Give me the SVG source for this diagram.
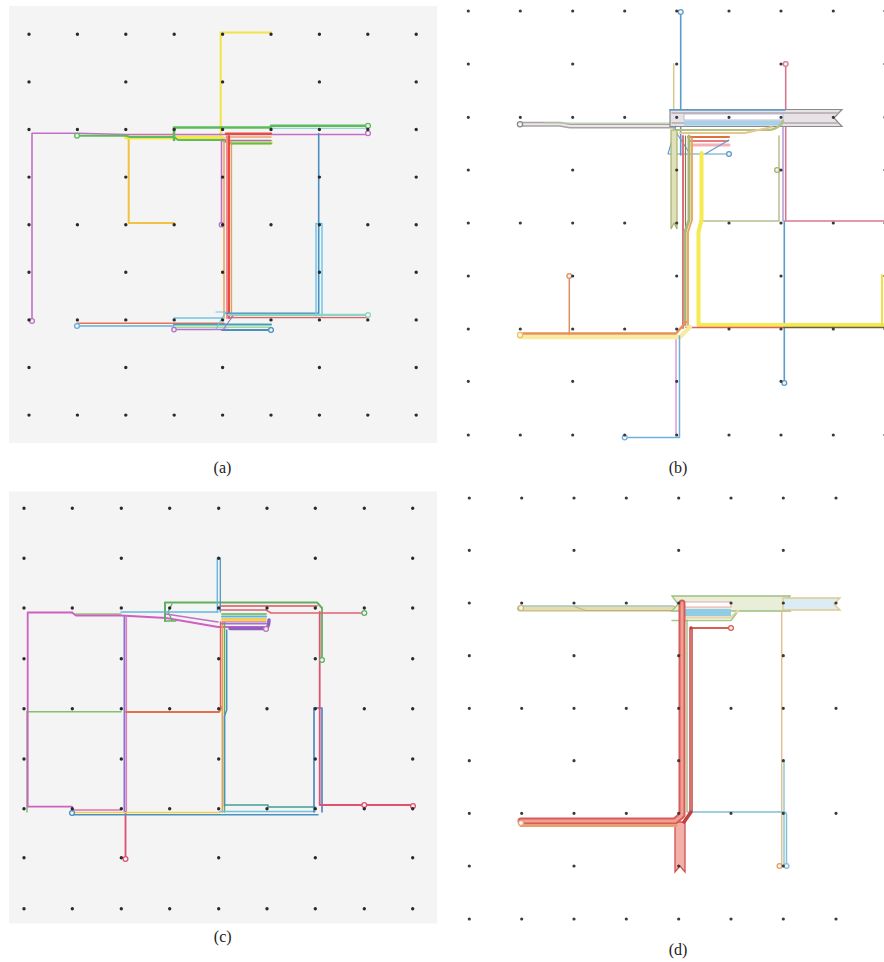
<svg xmlns="http://www.w3.org/2000/svg" width="884" height="962" viewBox="0 0 884 962">
<style>
.bg{fill:#f4f4f4}
.dots{fill:none;stroke:#2a2a2a;stroke-width:3.4;stroke-linecap:round}
.dots2{fill:none;stroke:#3a3a3a;stroke-width:3.2;stroke-linecap:round}
.ln{fill:none;stroke-linecap:round;stroke-linejoin:round}
.end{fill:#f4f4f4;stroke-width:1.3}
.cap{font-family:"Liberation Serif","Times New Roman",serif;font-size:16px;text-anchor:middle;fill:#222}
</style>
<rect x="0" y="0" width="884" height="962" fill="#ffffff"/>

<!-- ===== Panel (a) ===== -->
<g id="panel-a">
<rect class="bg" x="9" y="6" width="428" height="437"/>
<g id="a-connectors">
<path class="ln" d="M271,32.5 H220.7 V140" stroke="#f2e444" stroke-width="2"/>
<path class="ln" d="M128.7,138 V223 H174" stroke="#f0c244" stroke-width="2"/>
<path class="ln" d="M126,137.5 H222 L228,142.5 H271" stroke="#f3e84a" stroke-width="4"/>
<path class="ln" d="M32,321 V133.3 H77 L126,134.5 H368" stroke="#c46ec8" stroke-width="1.6"/>
<path class="ln" d="M221.5,140 V224.7" stroke="#c46ec8" stroke-width="1.6"/>
<path class="ln" d="M77,135.8 H126 L130,137 H174 L178,140 H222 L230,143.5 H271" stroke="#5cbb5c" stroke-width="2"/>
<path class="ln" d="M174,140 V127.5 H271 V125.8 H368" stroke="#5cbb5c" stroke-width="2.6"/>
<path class="ln" d="M271,128.4 H368" stroke="#9ad0d8" stroke-width="1.2"/>
<path class="ln" d="M226,133.8 H271" stroke="#e84c40" stroke-width="2.4"/>
<path class="ln" d="M226,137 H271" stroke="#f0a068" stroke-width="1.5"/>
<path class="ln" d="M222,139.5 L228,140.5 H271" stroke="#a070d0" stroke-width="1.5"/>
<path class="ln" d="M224,141 V318" stroke="#f0a050" stroke-width="1.5"/>
<path class="ln" d="M227,136 V318" stroke="#f08c9c" stroke-width="2"/>
<path class="ln" d="M229,136 V318" stroke="#e84c40" stroke-width="2.2"/>
<path class="ln" d="M231.5,141 V318" stroke="#e8a050" stroke-width="1.3"/>
<path class="ln" d="M318.7,133.5 V313.3 H226" stroke="#4a8fc0" stroke-width="1.6"/>
<path class="ln" d="M316,316 V223.5 H322 V316" stroke="#6cc6ea" stroke-width="1.5"/>
<path class="ln" d="M229,315 H368" stroke="#8ad4c8" stroke-width="2.4"/>
<path class="ln" d="M229,317.6 H368" stroke="#e86060" stroke-width="1.4"/>
<path class="ln" d="M77,323.3 H224" stroke="#f07050" stroke-width="1.6"/>
<path class="ln" d="M77,326 H174" stroke="#60aee0" stroke-width="1.4"/>
<path class="ln" d="M174,318 H222" stroke="#74c4e6" stroke-width="1.3"/>
<path class="ln" d="M174,324.5 H271" stroke="#40a0b4" stroke-width="2"/>
<path class="ln" d="M174,327.3 H271" stroke="#a4d890" stroke-width="1.5"/>
<path class="ln" d="M174,329.6 H228" stroke="#b070d0" stroke-width="1.5"/>
<path class="ln" d="M222,330 H271" stroke="#4a8fc0" stroke-width="2"/>
<path class="ln" d="M216,312 L226,312 L221,320 L216,329" stroke="#6cc6ea" stroke-width="1.2"/>
<path class="ln" d="M233,316 L227,324 L223,330" stroke="#a070d0" stroke-width="1.2"/>
<circle class="end" cx="32" cy="321" r="2.4" stroke="#c46ec8"/>
<circle class="end" cx="368" cy="133.3" r="2.4" stroke="#c46ec8"/>
<circle class="end" cx="221.5" cy="224.7" r="2.2" stroke="#c46ec8"/>
<circle class="end" cx="77" cy="135.8" r="2.4" stroke="#5cbb5c"/>
<circle class="end" cx="368" cy="125.8" r="2.4" stroke="#5cbb5c"/>
<circle class="end" cx="77" cy="326" r="2.4" stroke="#60aee0"/>
<circle class="end" cx="368" cy="315" r="2.4" stroke="#8ad4c8"/>
<circle class="end" cx="271" cy="330" r="2.4" stroke="#4a8fc0"/>
<circle class="end" cx="174" cy="329.6" r="2.2" stroke="#b070d0"/>
</g>
<path class="dots" d="M29 34.3h0M77.4 34.3h0M125.8 34.3h0M174.2 34.3h0M222.6 34.3h0M271 34.3h0M319.4 34.3h0M367.8 34.3h0M416.2 34.3h0M29 81.9h0M125.8 81.9h0M222.6 81.9h0M319.4 81.9h0M416.2 81.9h0M29 129.5h0M77.4 129.5h0M125.8 129.5h0M174.2 129.5h0M222.6 129.5h0M271 129.5h0M319.4 129.5h0M367.8 129.5h0M416.2 129.5h0M29 177.1h0M125.8 177.1h0M222.6 177.1h0M319.4 177.1h0M416.2 177.1h0M29 224.7h0M77.4 224.7h0M125.8 224.7h0M174.2 224.7h0M222.6 224.7h0M271 224.7h0M319.4 224.7h0M367.8 224.7h0M416.2 224.7h0M29 272.3h0M125.8 272.3h0M222.6 272.3h0M319.4 272.3h0M416.2 272.3h0M29 319.9h0M77.4 319.9h0M125.8 319.9h0M174.2 319.9h0M222.6 319.9h0M271 319.9h0M319.4 319.9h0M367.8 319.9h0M416.2 319.9h0M29 367.5h0M125.8 367.5h0M222.6 367.5h0M319.4 367.5h0M416.2 367.5h0M29 415.1h0M77.4 415.1h0M125.8 415.1h0M174.2 415.1h0M222.6 415.1h0M271 415.1h0M319.4 415.1h0M367.8 415.1h0M416.2 415.1h0"/>
<text class="cap" x="222.5" y="473">(a)</text>
</g>

<!-- ===== Panel (b) ===== -->
<g id="panel-b">
<g id="b-connectors">
<path class="ln" d="M680.7,12 V155" stroke="#5c9ccc" stroke-width="1.6"/>
<path class="ln" d="M673.7,64 V130" stroke="#d8c890" stroke-width="1.5"/>
<path class="ln" d="M785.7,64 V221 H884" stroke="#d87890" stroke-width="1.6"/>
<path class="ln" d="M783,112 V221" stroke="#a080c0" stroke-width="1.2"/>
<path class="ln" d="M784.3,221 V383" stroke="#5c9ccc" stroke-width="1.6"/>
<path class="ln" d="M520,124.2 H560 L570,126 H673" stroke="#a4a4a4" stroke-width="5"/>
<path class="ln" d="M520,124.2 H560 L570,126 H673" stroke="#eee6e6" stroke-width="2"/>
<path class="ln" d="M545,123 H673" stroke="#b8d4a8" stroke-width="1"/>
<polygon points="670,109.5 842,109.5 834,118 842,126.5 670,126.5" fill="#e6e2e6" stroke="#8a8a8a" stroke-width="1.2"/>
<path class="ln" d="M672,113 H838 M672,123 H838" stroke="#b4a8b0" stroke-width="1.5"/>
<rect x="684" y="114" width="99" height="6" fill="#ffffff" stroke="#b0b0d0" stroke-width="0.8"/>
<rect x="684" y="121" width="99" height="4.5" fill="#a4d2ea"/>
<path class="ln" d="M670,110 H785" stroke="#5c9ccc" stroke-width="1.6"/>
<path class="ln" d="M676,130 H770 Q780,128 783,121" stroke="#b8c080" stroke-width="2.2"/>
<path class="ln" d="M680,133 H745 L772,127" stroke="#e4c890" stroke-width="2"/>
<path class="ln" d="M688,137 H729" stroke="#e07040" stroke-width="2"/>
<path class="ln" d="M690,141 H728" stroke="#e05050" stroke-width="1.5"/>
<path class="ln" d="M692,145 H729" stroke="#f4b0b8" stroke-width="3"/>
<path class="ln" d="M668,154 H729 M668,154 L676,126 M676,132 L690,154 M729,140 L705,154" stroke="#5c9ccc" stroke-width="1.1"/>
<polygon points="671,130 677,130 677,229 674,223 671,229" fill="#dfe2b8" stroke="#a8b070" stroke-width="1.2"/>
<path class="ln" d="M683,136 V328" stroke="#e07080" stroke-width="2"/>
<path class="ln" d="M685.5,136 V320" stroke="#8a7a50" stroke-width="1.2"/>
<path class="ln" d="M689,136 V220 L685,232 V325" stroke="#a8b878" stroke-width="3"/>
<path class="ln" d="M692,138 V220 L688,232 V325" stroke="#f0a050" stroke-width="1.8"/>
<path class="ln" d="M700,221 H779 V136" stroke="#b8c090" stroke-width="1.5"/>
<path class="ln" d="M701.5,153 V220 L698.5,232 V325 H884" stroke="#f5ea50" stroke-width="4"/>
<path class="ln" d="M686,327.5 H784" stroke="#d86060" stroke-width="1.5"/>
<path class="ln" d="M784,327.5 H884" stroke="#6e6040" stroke-width="1.5"/>
<path class="ln" d="M882,275 V325" stroke="#f0e040" stroke-width="2"/>
<path class="ln" d="M569.3,276 V334" stroke="#e09060" stroke-width="1.5"/>
<path class="ln" d="M520,337 H680 L690,327" stroke="#f8eca0" stroke-width="4.5"/>
<path class="ln" d="M520,333.5 H676 L686,322" stroke="#e8905a" stroke-width="2.4"/>
<path class="ln" d="M676,340 V435" stroke="#e2b4e4" stroke-width="2"/>
<path class="ln" d="M679.5,336 V437.5 H624.7" stroke="#70b0e0" stroke-width="1.5"/>
<circle class="end" cx="680.7" cy="12" r="2.4" stroke="#5c9ccc" fill="#fff"/>
<circle class="end" cx="785.7" cy="64" r="2.4" stroke="#d87890" fill="#fff"/>
<circle class="end" cx="784.3" cy="383" r="2.4" stroke="#5c9ccc" fill="#fff"/>
<circle class="end" cx="520" cy="124.2" r="2.6" stroke="#8a8a8a" fill="#fff"/>
<circle class="end" cx="729" cy="154" r="2.4" stroke="#5c9ccc" fill="#fff"/>
<circle class="end" cx="777" cy="170" r="2.4" stroke="#a8b070" fill="#fff"/>
<circle class="end" cx="569.3" cy="276" r="2.4" stroke="#e09060" fill="#fff"/>
<circle class="end" cx="520" cy="335" r="2.6" stroke="#f0c060" fill="#fff"/>
<circle class="end" cx="624.7" cy="437.5" r="2.4" stroke="#70b0e0" fill="#fff"/>
</g>
<path class="dots2" d="M468.3 11h0M520.3 11h0M572.7 11h0M624.7 11h0M676.7 11h0M729 11h0M781 11h0M833.3 11h0M885 11h0M468.3 64h0M572.7 64h0M676.7 64h0M781 64h0M885 64h0M468.3 117.3h0M520.3 117.3h0M572.7 117.3h0M624.7 117.3h0M676.7 117.3h0M729 117.3h0M781 117.3h0M833.3 117.3h0M885 117.3h0M468.3 170h0M572.7 170h0M676.7 170h0M781 170h0M885 170h0M468.3 223h0M520.3 223h0M572.7 223h0M624.7 223h0M676.7 223h0M729 223h0M781 223h0M833.3 223h0M885 223h0M468.3 276h0M572.7 276h0M676.7 276h0M781 276h0M885 276h0M468.3 329h0M520.3 329h0M572.7 329h0M624.7 329h0M676.7 329h0M729 329h0M781 329h0M833.3 329h0M885 329h0M468.3 381.3h0M572.7 381.3h0M676.7 381.3h0M781 381.3h0M468.3 435h0M520.3 435h0M572.7 435h0M624.7 435h0M676.7 435h0M729 435h0M781 435h0M833.3 435h0M885 435h0"/>
<text class="cap" x="678" y="473">(b)</text>
</g>

<!-- ===== Panel (c) ===== -->
<g id="panel-c">
<rect class="bg" x="9" y="491.5" width="428" height="432"/>
<g id="c-connectors">
<path class="ln" d="M27,711.7 V812" stroke="#80c070" stroke-width="1.5"/>
<path class="ln" d="M27,711.7 H121" stroke="#80c070" stroke-width="1.5"/>
<path class="ln" d="M76,614 H121" stroke="#90c870" stroke-width="1.3"/>
<path class="ln" d="M72,612.5 H27.7 V806.7 H72 V810" stroke="#d060c0" stroke-width="1.8"/>
<path class="ln" d="M72,612.5 L76,615.5 H121 L166,618 L218,627 H265" stroke="#d060c0" stroke-width="2"/>
<path class="ln" d="M124.5,617 V812" stroke="#9070d0" stroke-width="2"/>
<path class="ln" d="M126.6,617 V812" stroke="#e070b0" stroke-width="1"/>
<path class="ln" d="M125.5,812 V859" stroke="#e05070" stroke-width="1.8"/>
<path class="ln" d="M126,712 H219 L222,707" stroke="#e07050" stroke-width="2"/>
<path class="ln" d="M220.5,622 V708" stroke="#e06060" stroke-width="1.4"/>
<path class="ln" d="M222.3,622 V812" stroke="#f0a040" stroke-width="1.5"/>
<path class="ln" d="M224.5,622 V812" stroke="#60b060" stroke-width="1.5"/>
<path class="ln" d="M226.7,630 V710 L224.5,716 V806" stroke="#4a90c0" stroke-width="1.5"/>
<path class="ln" d="M225,805 H268 V807 H315" stroke="#40a090" stroke-width="1.5"/>
<path class="ln" d="M72,810 H121" stroke="#e070b0" stroke-width="1.3"/>
<path class="ln" d="M72,812.5 H220" stroke="#f0d050" stroke-width="1.6"/>
<path class="ln" d="M72,814.7 H318" stroke="#4a90c0" stroke-width="1.5"/>
<path class="ln" d="M220,811.5 H315" stroke="#70c0e0" stroke-width="1.3"/>
<path class="ln" d="M314,812 V708 H322 V812" stroke="#4a80c0" stroke-width="1.6"/>
<path class="ln" d="M319.7,612 V805 H413" stroke="#e05070" stroke-width="1.8"/>
<path class="ln" d="M322,609 V660" stroke="#60b060" stroke-width="1.8"/>
<path class="ln" d="M165,621 V602.5 H317 L322,608" stroke="#60b060" stroke-width="2"/>
<path class="ln" d="M165,621 H176 M172,604 L168,612 L172,620" stroke="#60b060" stroke-width="1.3"/>
<path class="ln" d="M220,606 H317" stroke="#e05060" stroke-width="1.5"/>
<path class="ln" d="M220,610 H266 L271,613 H364" stroke="#e06070" stroke-width="1.5"/>
<path class="ln" d="M121,612 H218" stroke="#60b8e0" stroke-width="1.5"/>
<path class="ln" d="M217.3,558 V612" stroke="#60b8e0" stroke-width="1.4"/>
<path class="ln" d="M220.3,558 V612" stroke="#4a90c0" stroke-width="1.2"/>
<path class="ln" d="M222,614 H266" stroke="#80c870" stroke-width="2"/>
<path class="ln" d="M222,616.5 H266" stroke="#60b0e0" stroke-width="2"/>
<path class="ln" d="M222,619 H266" stroke="#f0d050" stroke-width="2"/>
<path class="ln" d="M222,621.3 H266" stroke="#f0a050" stroke-width="1.5"/>
<path class="ln" d="M222,623.5 H266" stroke="#a070d0" stroke-width="2"/>
<path class="ln" d="M230,628.5 H265 Q269,628 269,620" stroke="#9060c0" stroke-width="3.5"/>
<path class="ln" d="M166,614 L218,622" stroke="#c070c0" stroke-width="1.5"/>
<circle class="end" cx="125.5" cy="859" r="2.4" stroke="#e05070"/>
<circle class="end" cx="72" cy="813" r="2.4" stroke="#4a90c0"/>
<circle class="end" cx="322" cy="660" r="2.4" stroke="#60b060"/>
<circle class="end" cx="364.3" cy="805" r="2.4" stroke="#e05070"/>
<circle class="end" cx="413" cy="806" r="2.4" stroke="#e05070"/>
<circle class="end" cx="364.3" cy="613" r="2.4" stroke="#60b060"/>
<circle class="end" cx="266" cy="629" r="2.4" stroke="#c070c0"/>
</g>
<path class="dots" d="M24 508.3h0M72.3 508.3h0M121.3 508.3h0M169.7 508.3h0M218.7 508.3h0M267 508.3h0M315.3 508.3h0M364.3 508.3h0M412.7 508.3h0M24 558.3h0M121.3 558.3h0M218.7 558.3h0M315.3 558.3h0M412.7 558.3h0M24 608h0M72.3 608h0M121.3 608h0M169.7 608h0M218.7 608h0M267 608h0M315.3 608h0M364.3 608h0M412.7 608h0M24 658.7h0M121.3 658.7h0M218.7 658.7h0M315.3 658.7h0M412.7 658.7h0M24 708.7h0M72.3 708.7h0M121.3 708.7h0M169.7 708.7h0M218.7 708.7h0M267 708.7h0M315.3 708.7h0M364.3 708.7h0M412.7 708.7h0M24 759h0M121.3 759h0M218.7 759h0M315.3 759h0M412.7 759h0M24 808.7h0M72.3 808.7h0M121.3 808.7h0M169.7 808.7h0M218.7 808.7h0M267 808.7h0M315.3 808.7h0M364.3 808.7h0M412.7 808.7h0M24 857.7h0M121.3 857.7h0M218.7 857.7h0M315.3 857.7h0M412.7 857.7h0M24 908.7h0M72.3 908.7h0M121.3 908.7h0M169.7 908.7h0M218.7 908.7h0M267 908.7h0M315.3 908.7h0M364.3 908.7h0M412.7 908.7h0"/>
<text class="cap" x="222.7" y="942">(c)</text>
</g>

<!-- ===== Panel (d) ===== -->
<g id="panel-d">
<g id="d-connectors">
<path class="ln" d="M520,608.5 H673" stroke="#c8bc80" stroke-width="6"/>
<path class="ln" d="M520,608.5 H673" stroke="#e6dcb0" stroke-width="3.5"/>
<path class="ln" d="M520,605.8 H673" stroke="#a8d0e0" stroke-width="1.2"/>
<path class="ln" d="M574,606.5 L586,610.5 H673" stroke="#b8ac70" stroke-width="0.8"/>
<polygon points="672,596 790,596 783,604 790,611 672,611 678,604" fill="#e8eed8" stroke="#9cc080" stroke-width="1.3"/>
<polygon points="783,598 840,598 834,604 840,610 783,610" fill="#dcecf4" stroke="#e0c890" stroke-width="1.3"/>
<rect x="684" y="602" width="47" height="5" fill="#ffffff" stroke="#e8a0a0" stroke-width="0.9"/>
<rect x="684" y="609" width="47" height="7" fill="#90cce8"/>
<path class="ln" d="M686,617.5 H731 L738,611" stroke="#e6d8a8" stroke-width="2.5"/>
<path class="ln" d="M672,620.5 H731 L736,614" stroke="#a8c888" stroke-width="1.5"/>
<path class="ln" d="M691,628 H730" stroke="#d86050" stroke-width="2"/>
<path class="ln" d="M781.7,611 V866" stroke="#e0c090" stroke-width="1.5"/>
<path class="ln" d="M784,760 V866" stroke="#90c8d8" stroke-width="1.5"/>
<path class="ln" d="M688,812 H784 Q786.5,812 786.5,815 V866" stroke="#80c0d8" stroke-width="1.5"/>
<polygon points="675,822 685,822 685,872 680,866 675,872" fill="#f2b0a8" stroke="#d05050" stroke-width="1.3"/>
<path class="ln" d="M521,821 H675 L682,815 V603" stroke="#d85a5a" stroke-width="7"/>
<path class="ln" d="M521,821 H675 L682,815 V603" stroke="#f0a090" stroke-width="3"/>
<path class="ln" d="M521,825.5 H676" stroke="#e8a070" stroke-width="3"/>
<path class="ln" d="M687,620 V812" stroke="#90b070" stroke-width="1.2"/>
<path class="ln" d="M691,628 V812 L684,822" stroke="#c04040" stroke-width="3.5"/>
<path class="ln" d="M691,630 V810" stroke="#e89080" stroke-width="1.3"/>
<circle class="end" cx="731" cy="628" r="2.4" stroke="#d86050" fill="#fff"/>
<circle class="end" cx="521" cy="608" r="2.6" stroke="#c8bc80" fill="#fff"/>
<circle class="end" cx="521" cy="823" r="2.6" stroke="#e8a070" fill="#fff"/>
<circle class="end" cx="779.5" cy="866" r="2.4" stroke="#e0a060" fill="#fff"/>
<circle class="end" cx="786.5" cy="866" r="2.4" stroke="#80c0d8" fill="#fff"/>
</g>
<path class="dots2" d="M469.3 498h0M521.7 498h0M574 498h0M626.3 498h0M678.7 498h0M731 498h0M783.3 498h0M836 498h0M469.3 550.3h0M574 550.3h0M678.7 550.3h0M783.3 550.3h0M469.3 603h0M521.7 603h0M574 603h0M626.3 603h0M678.7 603h0M731 603h0M783.3 603h0M836 603h0M469.3 655.7h0M574 655.7h0M678.7 655.7h0M783.3 655.7h0M469.3 708.3h0M521.7 708.3h0M574 708.3h0M626.3 708.3h0M678.7 708.3h0M731 708.3h0M783.3 708.3h0M836 708.3h0M469.3 760.7h0M574 760.7h0M678.7 760.7h0M783.3 760.7h0M469.3 813.3h0M521.7 813.3h0M574 813.3h0M626.3 813.3h0M678.7 813.3h0M731 813.3h0M783.3 813.3h0M836 813.3h0M469.3 866h0M574 866h0M678.7 866h0M783.3 866h0M469.3 919h0M521.7 919h0M574 919h0M626.3 919h0M678.7 919h0M731 919h0M783.3 919h0M836 919h0"/>
<text class="cap" x="678" y="955">(d)</text>
</g>
</svg>
